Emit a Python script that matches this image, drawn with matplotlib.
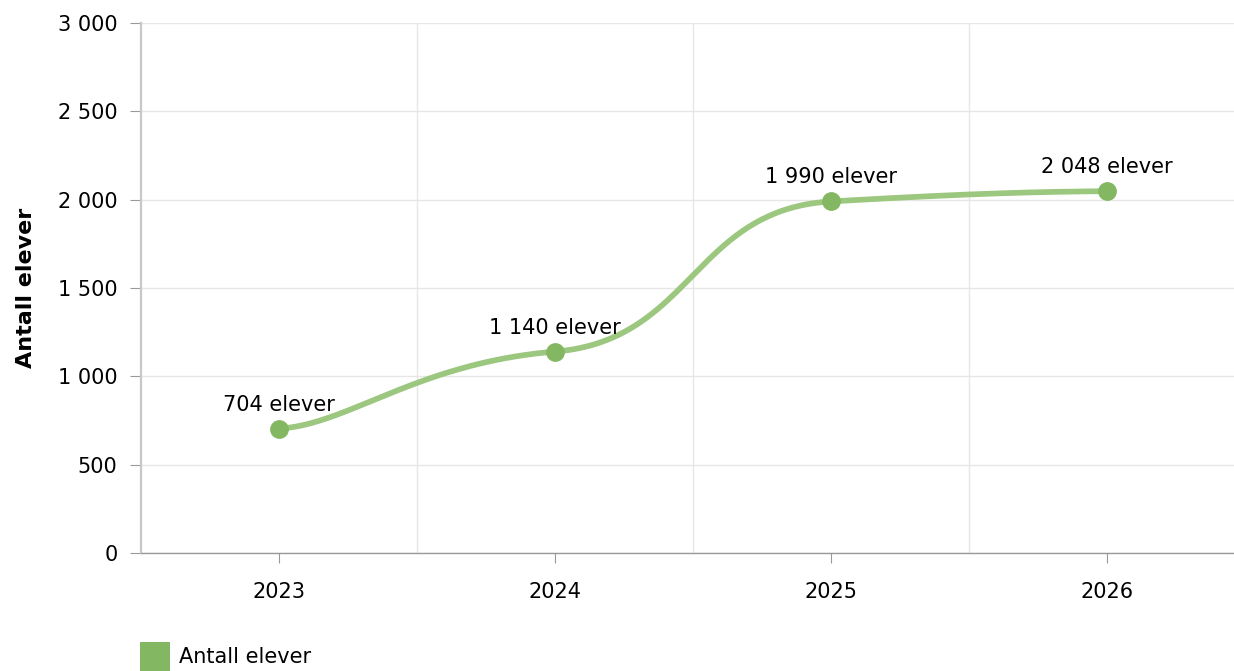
import numpy as np
import matplotlib
matplotlib.use("Agg")
import matplotlib.pyplot as plt
from matplotlib.patches import Patch
import matplotlib.ticker as mticker

years = ["2023", "2024", "2025", "2026"]
elever = [704, 1140, 1990, 2048]
yticks = [0, 500, 1000, 1500, 2000, 2500, 3000]

line_color = "#9bc77f"
marker_color = "#84b761"


def fmt_num(v):
    return "{:,}".format(int(v)).replace(",", " ")


def smooth_path(xs, ys, bx=4.0, by=20.0, steps=80):
    # bezier smoothing, control points from neighbours (ends duplicated)
    n = len(xs)
    t = np.linspace(0, 1, steps)
    out_x, out_y = [], []
    for i in range(n - 1):
        i0 = max(i - 1, 0)
        i3 = min(i + 2, n - 1)
        x0, y0 = xs[i0], ys[i0]
        x1, y1 = xs[i], ys[i]
        x2, y2 = xs[i + 1], ys[i + 1]
        x3, y3 = xs[i3], ys[i3]
        c1 = (x1 + (x2 - x0) / bx, y1 + (y2 - y0) / by)
        c2 = (x2 - (x3 - x1) / bx, y2 - (y3 - y1) / by)
        bx_ = (1 - t) ** 3 * x1 + 3 * (1 - t) ** 2 * t * c1[0] + 3 * (1 - t) * t ** 2 * c2[0] + t ** 3 * x2
        by_ = (1 - t) ** 3 * y1 + 3 * (1 - t) ** 2 * t * c1[1] + 3 * (1 - t) * t ** 2 * c2[1] + t ** 3 * y2
        out_x.extend(bx_)
        out_y.extend(by_)
    return out_x, out_y


plt.rcParams['font.family'] = ['DejaVu Sans']
fs = 15

fig = plt.figure(figsize=(12.34, 6.71), dpi=100)
ax = fig.add_axes([141 / 1234, 118 / 671, 1 - 141 / 1234, 530 / 671])

x = np.arange(len(years))
sx, sy = smooth_path(list(x), elever)
ax.plot(sx, sy, color=line_color, lw=4.1, solid_capstyle="round", zorder=3)
ax.plot(x, elever, "o", color=marker_color, ms=12.5, zorder=4)

for xi, v in zip(x, elever):
    ax.annotate(fmt_num(v) + " elever", (xi, v), xytext=(0, 18), textcoords="offset pixels",
                ha="center", va="baseline", fontsize=fs, color="#000000", zorder=5)

ax.set_xlim(-0.5, 3.46)
ax.set_ylim(0, 3000)
ax.set_yticks(yticks)
ax.yaxis.set_major_formatter(mticker.FuncFormatter(lambda v, pos: fmt_num(v)))
ax.set_xticks(x)
ax.set_xticklabels(years)
ax.set_xticks([0.5, 1.5, 2.5], minor=True)

ax.grid(axis="y", color="#e6e6e6", lw=1)
ax.grid(axis="x", which="minor", color="#e6e6e6", lw=1)
ax.set_axisbelow(True)

for s in ["top", "right"]:
    ax.spines[s].set_visible(False)
ax.spines["left"].set_color("#c8c8c8")
ax.spines["left"].set_linewidth(1.6)
ax.spines["bottom"].set_color("#999999")
ax.spines["bottom"].set_linewidth(1)

ax.tick_params(axis="y", length=8, color="#999999", pad=9, labelsize=fs)
ax.tick_params(axis="x", which="major", length=7.2, color="#999999", pad=13.5, labelsize=fs)
ax.tick_params(axis="x", which="minor", length=0)

ax.set_ylabel("Antall elever", fontsize=16, fontweight="bold")
ax.yaxis.set_label_coords(-105 / 1093, 0.5)

handles = [Patch(facecolor=marker_color, edgecolor="none", label="Antall elever")]
fig.legend(handles=handles, loc="lower left", bbox_to_anchor=(140 / 1234, 0.0),
           frameon=False, fontsize=fs, handlelength=1.45, handleheight=1.74,
           handletextpad=0.4, borderpad=0, borderaxespad=0)

fig.savefig("out.png", dpi=100, facecolor="white")
